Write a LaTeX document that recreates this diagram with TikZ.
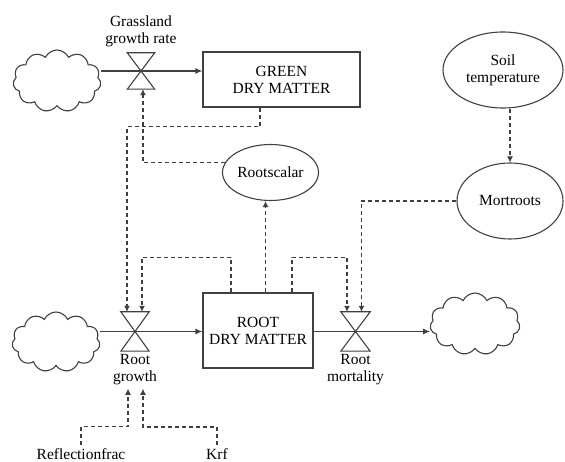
\documentclass[tikz,border=0pt]{standalone}
\usepackage{fontspec}
\setmainfont{LiberationSerif}[Extension=.ttf, UprightFont=*-Regular]
\usetikzlibrary{arrows.meta,positioning,shapes.geometric,shapes.symbols}

\begin{document}
\begin{tikzpicture}[x=1pt, y=-1pt, font=\fontsize{15.5}{17}\selectfont,
  stock/.style={shape=rectangle, draw=black!75, line width=1.2pt, align=center, inner sep=0pt},
  aux/.style={shape=ellipse, draw=black!75, line width=1.1pt, align=center, inner sep=0pt},
  sky/.style={shape=cloud, cloud puffs=11, cloud puff arc=130, draw=black!75, line width=1.1pt, inner sep=0pt},
  valve/.style={shape=rectangle, minimum width=28pt, minimum height=39pt, inner sep=0pt},
  flow/.style={-{Latex[length=7pt,width=6pt]}, line width=1.2pt, draw=black!75},
  info/.style={-{Latex[length=6pt,width=6pt]}, line width=1.1pt, dash pattern=on 4pt off 3pt, draw=black!75}]
\useasboundingbox (0,0) rectangle (565,462);

% stocks and sources
\node[sky, minimum width=88pt, minimum height=62pt] (cloudG) at (57,81) {};
\node[sky, minimum width=88pt, minimum height=60pt] (cloudL) at (56,342) {};
\node[sky, minimum width=90pt, minimum height=62pt] (cloudR) at (475,324) {};
\node[stock, minimum width=157pt, minimum height=55pt] (green) at (281.5,79.5) {GREEN\\DRY MATTER};
\node[stock, minimum width=110pt, minimum height=75pt] (root) at (258,330.5) {ROOT\\DRY MATTER};

% valves
\node[valve, minimum width=27pt, minimum height=36pt] (gv) at (141,71) {};
\node[valve] (rgv) at (135,331.5) {};
\node[valve, minimum width=29pt] (rmv) at (355.5,331.5) {};
\draw[line width=1.1pt, draw=black!75] (gv.north west) -- (gv.north east) -- (gv.south west) -- (gv.south east) -- cycle;
\draw[line width=1.1pt, draw=black!75] (rgv.north west) -- (rgv.north east) -- (rgv.south west) -- (rgv.south east) -- cycle;
\draw[line width=1.1pt, draw=black!75] (rmv.north west) -- (rmv.north east) -- (rmv.south west) -- (rmv.south east) -- cycle;
\node[above=2pt of gv, align=center] (gvlab) {Grassland\\growth rate};
\node[below=0pt of rgv, align=center] (rglab) {Root\\growth};
\node[below=0pt of rmv, align=center] (rmlab) {Root\\mortality};

% auxiliaries
\node[aux, minimum width=96pt, minimum height=56pt] (rootscalar) at (270.5,172.5) {Rootscalar};
\node[aux, minimum width=120pt, minimum height=76pt] (soil) at (503,70) {Soil\\temperature};
\node[aux, minimum width=106pt, minimum height=76pt] (mortroots) at (510,201) {Mortroots};
\node (refl) at (81,454) {Reflectionfrac};
\node (krf) at (217,454) {Krf};

% flows
\draw[flow] (cloudG.east |- gv) -- (green.west |- gv);
\draw[flow] (cloudL.east |- rgv) -- (root.west |- rgv);
\draw[flow] (root.east |- rmv) -- (cloudR.west |- rmv);

% information links
\draw[info] ([xshift=-21.5]green.south) -- ++(0,19) -| ([xshift=-8]rgv.north);
\draw[info] (rootscalar.168) -| ([xshift=2]gv.south);
\draw[info] ([xshift=-27]root.north) -- ++(0,-35) -| ([xshift=7]rgv.north);
\draw[info] ([xshift=7.5]root.north) -- ([xshift=-5]rootscalar.south);
\draw[info] ([xshift=34]root.north) -- ++(0,-35) -| ([xshift=-8.5]rmv.north);
\draw[info] (mortroots.west) -| ([xshift=6]rmv.north);
\draw[info] (soil.south -| mortroots.north) -- (mortroots.north);
\draw[info] (refl.north) -- ++(0,-18) -| ([xshift=-7]rglab.south);
\draw[info] (krf.north) -- ++(0,-18) -| ([xshift=8]rglab.south);
\end{tikzpicture}
\end{document}
